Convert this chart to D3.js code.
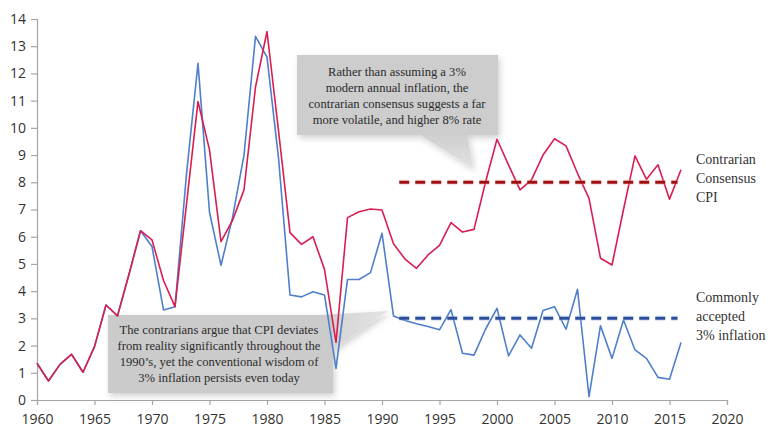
<!DOCTYPE html>
<html>
<head>
<meta charset="utf-8">
<script src="https://cdn.jsdelivr.net/npm/d3@7"></script>
<style>
  html, body { margin: 0; padding: 0; background: #fff; }
  svg { display: block; }
</style>
</head>
<body>
<svg id="chart" width="770" height="432"></svg>
<script>
// Annual inflation rate (%), 1960-2016
const years = d3.range(1960, 2017);

// Official CPI (commonly accepted)
const officialCPI = [
  1.35, 0.70, 1.31, 1.68, 1.02, 1.96, 3.49, 3.09, 4.62, 6.22,
  5.64, 3.31, 3.43, 8.30, 12.37, 6.90, 4.95, 6.70, 9.00, 13.36,
  12.60, 8.90, 3.86, 3.79, 3.98, 3.86, 1.16, 4.43, 4.43, 4.68,
  6.13, 3.09, 2.92, 2.80, 2.70, 2.58, 3.32, 1.72, 1.65, 2.60,
  3.37, 1.62, 2.39, 1.90, 3.29, 3.43, 2.60, 4.07, 0.12, 2.73,
  1.53, 2.94, 1.84, 1.53, 0.83, 0.76, 2.11
];

// Contrarian consensus CPI
const contrarianCPI = [
  1.35, 0.70, 1.31, 1.68, 1.02, 1.96, 3.49, 3.09, 4.62, 6.22,
  5.88, 4.39, 3.43, 7.20, 10.97, 9.19, 5.82, 6.60, 7.72, 11.50,
  13.54, 9.90, 6.15, 5.72, 6.00, 4.80, 2.12, 6.70, 6.92, 7.02,
  6.98, 5.74, 5.18, 4.84, 5.33, 5.68, 6.52, 6.17, 6.27, 8.00,
  9.58, 8.64, 7.72, 8.09, 9.00, 9.60, 9.34, 8.33, 7.41, 5.21,
  4.96, 7.00, 8.97, 8.11, 8.64, 7.38, 8.46
];

// Reference levels and the years they span
const contrarianLevel = 8;
const acceptedLevel = 3;
const levelSpan = [1991.5, 2015.7];

// Axis ticks
const xTicks = d3.range(1960, 2021, 5);
const yTicks = d3.range(0, 15, 1);

// Annotation texts
const topNote = [
  "Rather than assuming a 3%",
  "modern annual inflation, the",
  "contrarian consensus suggests a far",
  "more volatile, and higher 8% rate"
];
const bottomNote = [
  "The contrarians argue that CPI deviates",
  "from reality significantly throughout the",
  "1990\u2019s, yet the conventional wisdom of",
  "3% inflation persists even today"
];
const contrarianLabel = ["Contrarian", "Consensus", "CPI"];
const acceptedLabel = ["Commonly", "accepted", "3% inflation"];

const svg = d3.select("#chart");

const x = d3.scaleLinear().domain([1960, 2020]).range([37, 727]);
const y = d3.scaleLinear().domain([0, 14]).range([400, 19]);

const defs = svg.append("defs");
const shadow = defs.append("filter").attr("id", "shadow")
  .attr("x", "-10%").attr("y", "-10%").attr("width", "125%").attr("height", "135%");
shadow.append("feDropShadow")
  .attr("dx", 2).attr("dy", 3).attr("stdDeviation", 3)
  .attr("flood-color", "#000").attr("flood-opacity", 0.18);

const wedgeGrad = defs.append("linearGradient").attr("id", "wedgeTop")
  .attr("x1", 0).attr("y1", 0).attr("x2", 0).attr("y2", 1);
wedgeGrad.append("stop").attr("offset", "0%").attr("stop-color", "#cdcdcd");
wedgeGrad.append("stop").attr("offset", "100%").attr("stop-color", "#e2e2e2");

const wedgeGrad2 = defs.append("linearGradient").attr("id", "wedgeBottom")
  .attr("x1", 0).attr("y1", 0).attr("x2", 1).attr("y2", 0);
wedgeGrad2.append("stop").attr("offset", "0%").attr("stop-color", "#cbcbcb");
wedgeGrad2.append("stop").attr("offset", "100%").attr("stop-color", "#e4e4e4");

// Axes
const axisColor = "#a6a6a6";
const tickFont = "'Open Sans', Lato, sans-serif";

const yAxis = svg.append("g")
  .attr("transform", `translate(${x(1960)},0)`)
  .call(d3.axisLeft(y).tickValues(yTicks).tickSize(6).tickPadding(5).tickFormat(d3.format("d")));
const xAxis = svg.append("g")
  .attr("transform", `translate(0,${y(0)})`)
  .call(d3.axisBottom(x).tickValues(xTicks).tickSize(5).tickPadding(9).tickFormat(d3.format("d")));

[yAxis, xAxis].forEach(g => {
  g.select(".domain").attr("stroke", axisColor).attr("stroke-width", 1.2);
  g.selectAll(".tick line").attr("stroke", axisColor).attr("stroke-width", 1.2);
  g.selectAll(".tick text")
    .attr("fill", "#333")
    .style("font-family", tickFont)
    .style("font-size", "14px");
});

// Callout boxes
const noteFont = "'Liberation Serif', 'DejaVu Serif', serif";

const topBox = svg.append("g").attr("filter", "url(#shadow)");
topBox.append("polygon")
  .attr("points", [[417, 133], [473, 168], [467, 133]].join(" "))
  .attr("fill", "url(#wedgeTop)");
topBox.append("rect")
  .attr("x", 297).attr("y", 55).attr("width", 201).attr("height", 80)
  .attr("fill", "#cdcdcd");

const bottomBox = svg.append("g").attr("filter", "url(#shadow)");
bottomBox.append("polygon")
  .attr("points", [[302, 316], [332, 350], [388, 311]].join(" "))
  .attr("fill", "url(#wedgeBottom)");
bottomBox.append("rect")
  .attr("x", 108).attr("y", 315).attr("width", 225).attr("height", 78)
  .attr("fill", "#cbcbcb");

svg.append("g").selectAll("text").data(topNote).join("text")
  .attr("x", 397).attr("y", (d, i) => 76 + i * 16)
  .attr("text-anchor", "middle")
  .attr("fill", "#2b2b2b")
  .style("font-family", noteFont).style("font-size", "12.6px")
  .text(d => d);

svg.append("g").selectAll("text").data(bottomNote).join("text")
  .attr("x", 219).attr("y", (d, i) => 334 + i * 16)
  .attr("text-anchor", "middle")
  .attr("fill", "#2b2b2b")
  .style("font-family", noteFont).style("font-size", "12.6px")
  .text(d => d);

// Series lines
const line = d3.line().x((d, i) => x(years[i])).y(d => y(d));

svg.append("path").datum(officialCPI)
  .attr("d", line)
  .attr("fill", "none")
  .attr("stroke", "#4f7fcb")
  .attr("stroke-width", 1.6)
  .attr("stroke-linejoin", "round");

svg.append("path").datum(contrarianCPI)
  .attr("d", line)
  .attr("fill", "none")
  .attr("stroke", "#d81e52")
  .attr("stroke-width", 1.6)
  .attr("stroke-linejoin", "round");

// Reference levels (dashed)
function level(value, color, glow) {
  const g = svg.append("g");
  g.append("line")
    .attr("x1", x(levelSpan[0])).attr("x2", x(levelSpan[1]))
    .attr("y1", y(value)).attr("y2", y(value))
    .attr("stroke", glow).attr("stroke-width", 5.5).attr("stroke-opacity", 0.35)
    .attr("stroke-dasharray", "10 6");
  g.append("line")
    .attr("x1", x(levelSpan[0])).attr("x2", x(levelSpan[1]))
    .attr("y1", y(value)).attr("y2", y(value))
    .attr("stroke", color).attr("stroke-width", 3)
    .attr("stroke-dasharray", "10 6");
}
level(contrarianLevel, "#9e1010", "#e8a0a0");
level(acceptedLevel, "#2c4f9c", "#9fb3dc");

// Series labels
svg.append("g").selectAll("text").data(contrarianLabel).join("text")
  .attr("x", 696).attr("y", (d, i) => 164 + i * 19)
  .attr("fill", "#333")
  .style("font-family", noteFont).style("font-size", "14px")
  .text(d => d);

svg.append("g").selectAll("text").data(acceptedLabel).join("text")
  .attr("x", 696).attr("y", (d, i) => 302 + i * 19)
  .attr("fill", "#333")
  .style("font-family", noteFont).style("font-size", "14px")
  .text(d => d);
</script>
</body>
</html>
